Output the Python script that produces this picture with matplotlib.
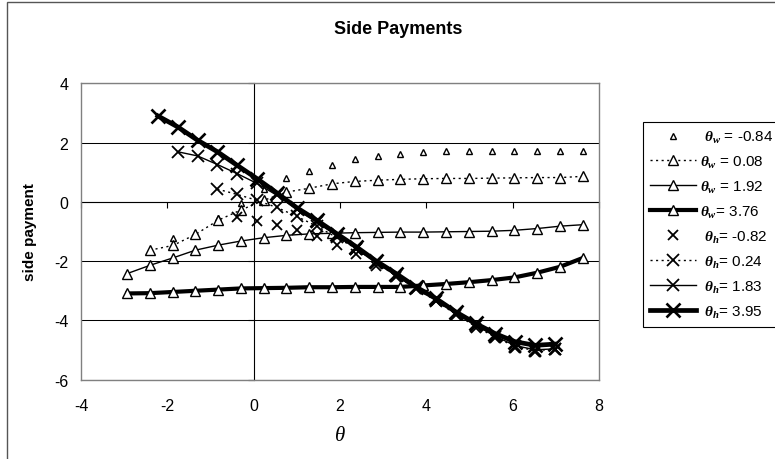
import matplotlib
matplotlib.use('Agg')
import matplotlib.pyplot as plt
from matplotlib.patches import Rectangle

plt.rcParams['font.family'] = ['Liberation Sans', 'DejaVu Sans']
plt.rcParams['mathtext.fontset'] = 'custom'
plt.rcParams['mathtext.it'] = 'Liberation Serif:italic:bold'
plt.rcParams['mathtext.rm'] = 'Liberation Serif'
plt.rcParams['axes.unicode_minus'] = False

# ---- data ----
theta_w_grid = [-2.93, -2.40, -1.87, -1.35, -0.82, -0.29, 0.23, 0.76, 1.29, 1.82, 2.35,
                2.87, 3.40, 3.93, 4.46, 4.99, 5.51, 6.04, 6.57, 7.10, 7.63]
theta_h_grid = [-2.22, -1.76, -1.30, -0.84, -0.38, 0.08, 0.54, 1.00, 1.46, 1.92, 2.38,
                2.84, 3.30, 3.76, 4.22, 4.68, 5.14, 5.60, 6.06, 6.52, 6.98]

w_m084_x = theta_w_grid[2:]
w_m084_y = [-1.21, -1.05, -0.55, -0.05, 0.42, 0.79, 1.04, 1.26, 1.43, 1.55, 1.63, 1.68,
            1.70, 1.71, 1.71, 1.72, 1.73, 1.73, 1.73]
w_008_x = theta_w_grid[1:]
w_008_y = [-1.63, -1.47, -1.10, -0.62, -0.27, 0.05, 0.33, 0.46, 0.61, 0.69, 0.73, 0.76,
           0.78, 0.79, 0.79, 0.80, 0.81, 0.82, 0.82, 0.86]
w_192_x = theta_w_grid
w_192_y = [-2.42, -2.14, -1.89, -1.63, -1.46, -1.32, -1.21, -1.13, -1.08, -1.06, -1.04,
           -1.03, -1.02, -1.02, -1.01, -1.00, -0.99, -0.96, -0.90, -0.82, -0.77]
w_376_x = theta_w_grid
w_376_y = [-3.09, -3.08, -3.04, -3.00, -2.96, -2.92, -2.91, -2.90, -2.88, -2.88, -2.87,
           -2.87, -2.87, -2.82, -2.77, -2.71, -2.64, -2.55, -2.39, -2.19, -1.89]

h_m082_x = theta_h_grid[4:]
h_m082_y = [-0.51, -0.64, -0.78, -0.94, -1.14, -1.45, -1.77, -2.17, -2.55, -2.95, -3.36,
            -3.82, -4.24, -4.60, -4.92, -5.05, -5.00]
h_024_x = theta_h_grid[3:]
h_024_y = [0.43, 0.25, 0.05, -0.19, -0.49, -0.82, -1.20, -1.58, -2.05, -2.50, -2.92,
           -3.34, -3.79, -4.20, -4.57, -4.88, -5.02, -4.97]
h_183_x = theta_h_grid[1:]
h_183_y = [1.69, 1.55, 1.26, 0.95, 0.62, 0.22, -0.25, -0.68, -1.12, -1.58, -2.04, -2.47,
           -2.91, -3.31, -3.76, -4.16, -4.54, -4.85, -4.99, -4.96]
h_395_x = theta_h_grid
h_395_y = [2.90, 2.53, 2.08, 1.69, 1.23, 0.78, 0.30, -0.20, -0.62, -1.07, -1.52, -2.00,
           -2.42, -2.87, -3.26, -3.71, -4.10, -4.45, -4.72, -4.84, -4.80]

labels = [r' $\theta_w$ = -0.84', r'$\theta_w$ = 0.08', r'$\theta_w$ = 1.92', r'$\theta_w$= 3.76',
          r' $\theta_h$= -0.82', r' $\theta_h$= 0.24', r' $\theta_h$= 1.83', r' $\theta_h$= 3.95']

x_ticks = [-4, -2, 0, 2, 4, 6, 8]
y_ticks = [-6, -4, -2, 0, 2, 4]

# ---- figure ----
W, H = 775, 460
fig = plt.figure(figsize=(W / 100, H / 100), dpi=100)
fig.patch.set_facecolor('white')

# outer chart border
fig.patches.append(Rectangle((7 / W, -0.05), 1.2, 1 - 3 / H + 0.05, transform=fig.transFigure,
                             fill=False, edgecolor='#555555', linewidth=1.0))

L, R, T, B = 81, 599, 84.3, 380.7
ax = fig.add_axes([L / W, 1 - B / H, (R - L) / W, (B - T) / H])
ax.set_xlim(-4, 8)
ax.set_ylim(-6, 4)
ax.set_xticks(x_ticks)
ax.set_yticks(y_ticks)
ax.tick_params(axis='x', length=0, pad=13.5, labelsize=11.5)
ax.tick_params(axis='y', length=0, pad=9, labelsize=11.5)
for s in ax.spines.values():
    s.set_color('#808080')
    s.set_linewidth(1.0)
ax.grid(axis='y', color='black', linewidth=0.75)
ax.set_axisbelow(True)

tri_big = dict(marker='^', markersize=7, markerfacecolor='white', markeredgecolor='black',
               markeredgewidth=1.0, color='black')
x_mk = dict(marker='x', color='black')

ax.plot(w_m084_x, w_m084_y, linestyle='none', marker='^', markersize=3.8,
        markerfacecolor='white', markeredgecolor='black', markeredgewidth=1.0,
        label=labels[0])
ax.plot(w_008_x, w_008_y, linestyle=(0, (1.5, 2.5)), linewidth=1.0, label=labels[1], **tri_big)
ax.plot(w_192_x, w_192_y, linestyle='-', linewidth=1.0, label=labels[2], **tri_big)
ax.plot(w_376_x, w_376_y, linestyle='-', linewidth=3.0, label=labels[3], **tri_big)
ax.plot(h_m082_x, h_m082_y, linestyle='none', markersize=7, markeredgewidth=1.3,
        label=labels[4], **x_mk)
ax.plot(h_024_x, h_024_y, linestyle=(0, (1.5, 2.5)), linewidth=1.0, markersize=8,
        markeredgewidth=1.3, label=labels[5], **x_mk)
ax.plot(h_183_x, h_183_y, linestyle='-', linewidth=1.0, markersize=8.5,
        markeredgewidth=1.3, label=labels[6], **x_mk)
ax.plot(h_395_x, h_395_y, linestyle='-', linewidth=3.4, markersize=10,
        markeredgewidth=1.9, label=labels[7], **x_mk)

# axes crossing at zero
y0 = (0 - ax.get_ylim()[0]) / (ax.get_ylim()[1] - ax.get_ylim()[0])
x0 = (0 - ax.get_xlim()[0]) / (ax.get_xlim()[1] - ax.get_xlim()[0])
sx = ax.secondary_xaxis(y0)
sx.set_alignment('bottom')
sx.set_xticks(x_ticks)
sx.tick_params(direction='out', length=4, width=0.8, color='black', labelbottom=False, labeltop=False)
sx.spines['bottom'].set_color('black')
sx.spines['bottom'].set_linewidth(0.8)
sy = ax.secondary_yaxis(x0)
sy.set_alignment('left')
sy.set_yticks(y_ticks)
sy.tick_params(direction='out', length=4, width=0.8, color='black', labelleft=False, labelright=False)
sy.spines['left'].set_color('black')
sy.spines['left'].set_linewidth(0.8)

leg = ax.legend(loc='upper left', bbox_to_anchor=(643 / W, 1 - 123 / H),
                bbox_transform=fig.transFigure, borderaxespad=0, fontsize=11,
                frameon=True, fancybox=False, edgecolor='black', framealpha=1,
                handlelength=3.0, handletextpad=0.3, labelspacing=0.58, borderpad=0.45)
leg.get_frame().set_linewidth(0.8)

fig.text(398 / W, 1 - 30 / H, 'Side Payments', fontsize=13, fontweight='bold',
         ha='center', va='center')
fig.text(30 / W, 1 - 232 / H, 'side payment', fontsize=11, fontweight='bold',
         rotation=90, ha='center', va='center')
fig.text(340 / W, 1 - 437 / H, 'θ', fontsize=15, family='Liberation Serif', style='italic',
         ha='center', va='center')

fig.savefig('out.png', dpi=100)
